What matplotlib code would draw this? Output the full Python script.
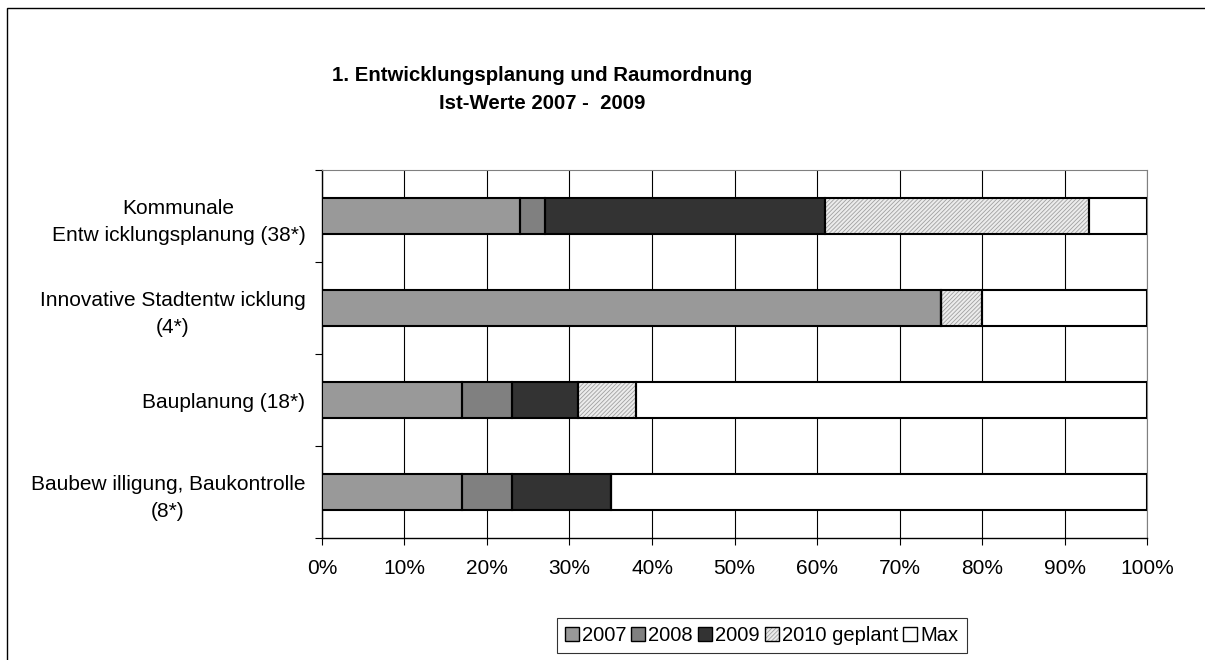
import matplotlib
matplotlib.use("Agg")
import matplotlib.pyplot as plt
from matplotlib.patches import Patch, Rectangle
from matplotlib.legend_handler import HandlerTuple
from matplotlib.ticker import FuncFormatter

plt.rcParams["font.family"] = ["Liberation Sans", "DejaVu Sans"]
plt.rcParams["hatch.color"] = "#a0a0a0"
plt.rcParams["hatch.linewidth"] = 0.6

# categories, top to bottom
categories = [
    "Kommunale\nEntw icklungsplanung (38*)",
    "Innovative Stadtentw icklung\n(4*)",
    "Bauplanung (18*)",
    "Baubew illigung, Baukontrolle\n(8*)",
]
series_names = ["2007", "2008", "2009", "2010 geplant", "Max"]
v2007 = [24, 75, 17, 17]
v2008 = [3, 0, 6, 6]
v2009 = [34, 0, 8, 12]
v2010 = [32, 5, 7, 0]
vmax = [7, 20, 62, 65]

colors = ["#999999", "#808080", "#333333", "#ececec", "#ffffff"]
hatches = [None, None, None, "////////", None]

fig = plt.figure(figsize=(12.05, 6.6), dpi=100)
ax = fig.add_axes([0.2672, 0.1848, 0.6847, 0.5576])

ypos = list(range(len(categories)))
left = [0] * len(categories)
for name, vals, col, h in zip(series_names, [v2007, v2008, v2009, v2010, vmax], colors, hatches):
    if h:
        ax.barh(ypos, vals, left=left, height=0.4, color=col, hatch=h, zorder=3)
    else:
        ax.barh(ypos, vals, left=left, height=0.4, color=col, zorder=3)
    ax.barh(ypos, vals, left=left, height=0.4, fill=False, edgecolor="black",
            linewidth=1.5, zorder=4)
    left = [a + b for a, b in zip(left, vals)]

ax.set_xlim(0, 100)
ax.set_ylim(3.5, -0.5)
ax.set_xticks(range(0, 101, 10))
ax.xaxis.set_major_formatter(FuncFormatter(lambda v, p: f"{int(v)}%"))
ax.grid(axis="x", color="black", linewidth=0.8, zorder=0)
ax.set_axisbelow(True)

ax.set_yticks(ypos)
ax.set_yticklabels(categories, multialignment="center", linespacing=1.55)
for lbl in ax.get_yticklabels():
    lbl.set_y(lbl.get_position()[1])
ax.set_yticks([-0.5, 0.5, 1.5, 2.5, 3.5], minor=True)
ax.tick_params(axis="y", which="major", length=0, pad=12, labelsize=15)
ax.tick_params(axis="y", which="minor", length=5, width=0.8, direction="out")
ax.tick_params(axis="x", length=5, width=0.8, pad=10, labelsize=15)

ax.spines["left"].set_color("black")
ax.spines["bottom"].set_color("black")
ax.spines["left"].set_linewidth(1.0)
ax.spines["bottom"].set_linewidth(1.0)
ax.spines["top"].set_color("#808080")
ax.spines["right"].set_color("#808080")

fig.text(0.45, 0.865, "1. Entwicklungsplanung und Raumordnung\nIst-Werte 2007 -  2009",
         ha="center", va="center", fontsize=14.7, fontweight="bold", linespacing=1.6)

handles = []
for col, h in zip(colors, hatches):
    fillp = Patch(facecolor=col, hatch=h)
    edgep = Patch(fill=False, edgecolor="black", linewidth=1.0)
    handles.append((fillp, edgep))
leg = fig.legend(handles, series_names, loc="center", bbox_to_anchor=(0.632, 0.037),
                 ncol=5, fontsize=14.5, frameon=True, fancybox=False,
                 handlelength=0.7, handleheight=0.7, handletextpad=0.15,
                 columnspacing=0.25, borderpad=0.4,
                 handler_map={tuple: HandlerTuple(ndivide=1, pad=0)})
leg.get_frame().set_edgecolor("black")
leg.get_frame().set_linewidth(0.8)

# chart area border (cut at right/bottom in the original)
fig.patches.append(Rectangle((7 / 1205, -0.1), 1.2, 0.1 + (660 - 8) / 660,
                             transform=fig.transFigure, fill=False,
                             edgecolor="black", linewidth=1.0))

fig.savefig("out.png", dpi=100)
